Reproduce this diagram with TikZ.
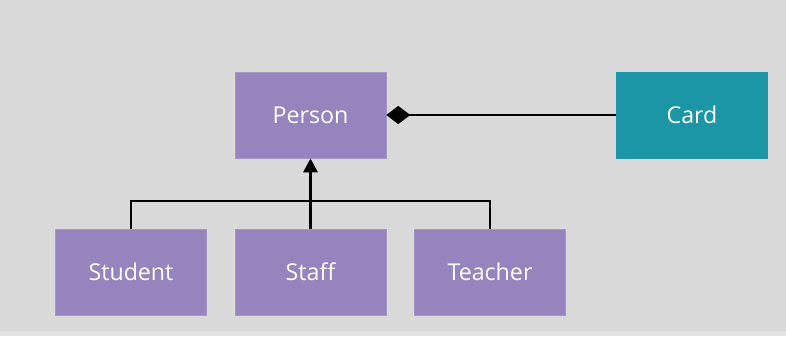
\documentclass[tikz,border=0pt]{standalone}
\usepackage{fontspec}
\newfontfamily\classfont{Open Sans}
\usetikzlibrary{positioning}
\usetikzlibrary{arrows.meta}

\definecolor{bggray}{HTML}{D9D9D9}
\definecolor{classpurple}{HTML}{9584BE}
\definecolor{classteal}{HTML}{1A96A6}

\begin{document}
\begin{tikzpicture}[x=0.025cm, y=-0.025cm,
  cls/.style={fill=classpurple, draw=classpurple!85!white, minimum width=3.775cm, minimum height=2.15cm,
              inner sep=0pt, text=white, font=\classfont\fontsize{16.5}{19}\selectfont},
  link/.style={draw=black, line width=2pt}]

 % backdrop
 \fill[bggray] (0,0) rectangle (786,336);
 \fill[black!11] (0,331) rectangle (786,336);

 %top row
 \node[cls] (person) at (310.5,115) {Person};
 \node[cls, fill=classteal, draw=classteal] (card) at (692,115) {Card};

 %level 2
 \foreach \x/\name/\n in {131/Student/student,310.5/Staff/staff,490/Teacher/teacher}
   \node[cls] (\n) at (\x,272) {\name};

 % lines
 \draw[link, {Diamond[length=17pt,width=13pt]}-] (person.east) -- (card.west);
 \coordinate (bar) at (310.5,201);
 \draw[link, -{Triangle[length=10pt,width=10pt]}] (staff.north) -- (person.south);
 \draw[link] (student.north) |- (bar) -| (teacher.north);

\end{tikzpicture}
\end{document}
